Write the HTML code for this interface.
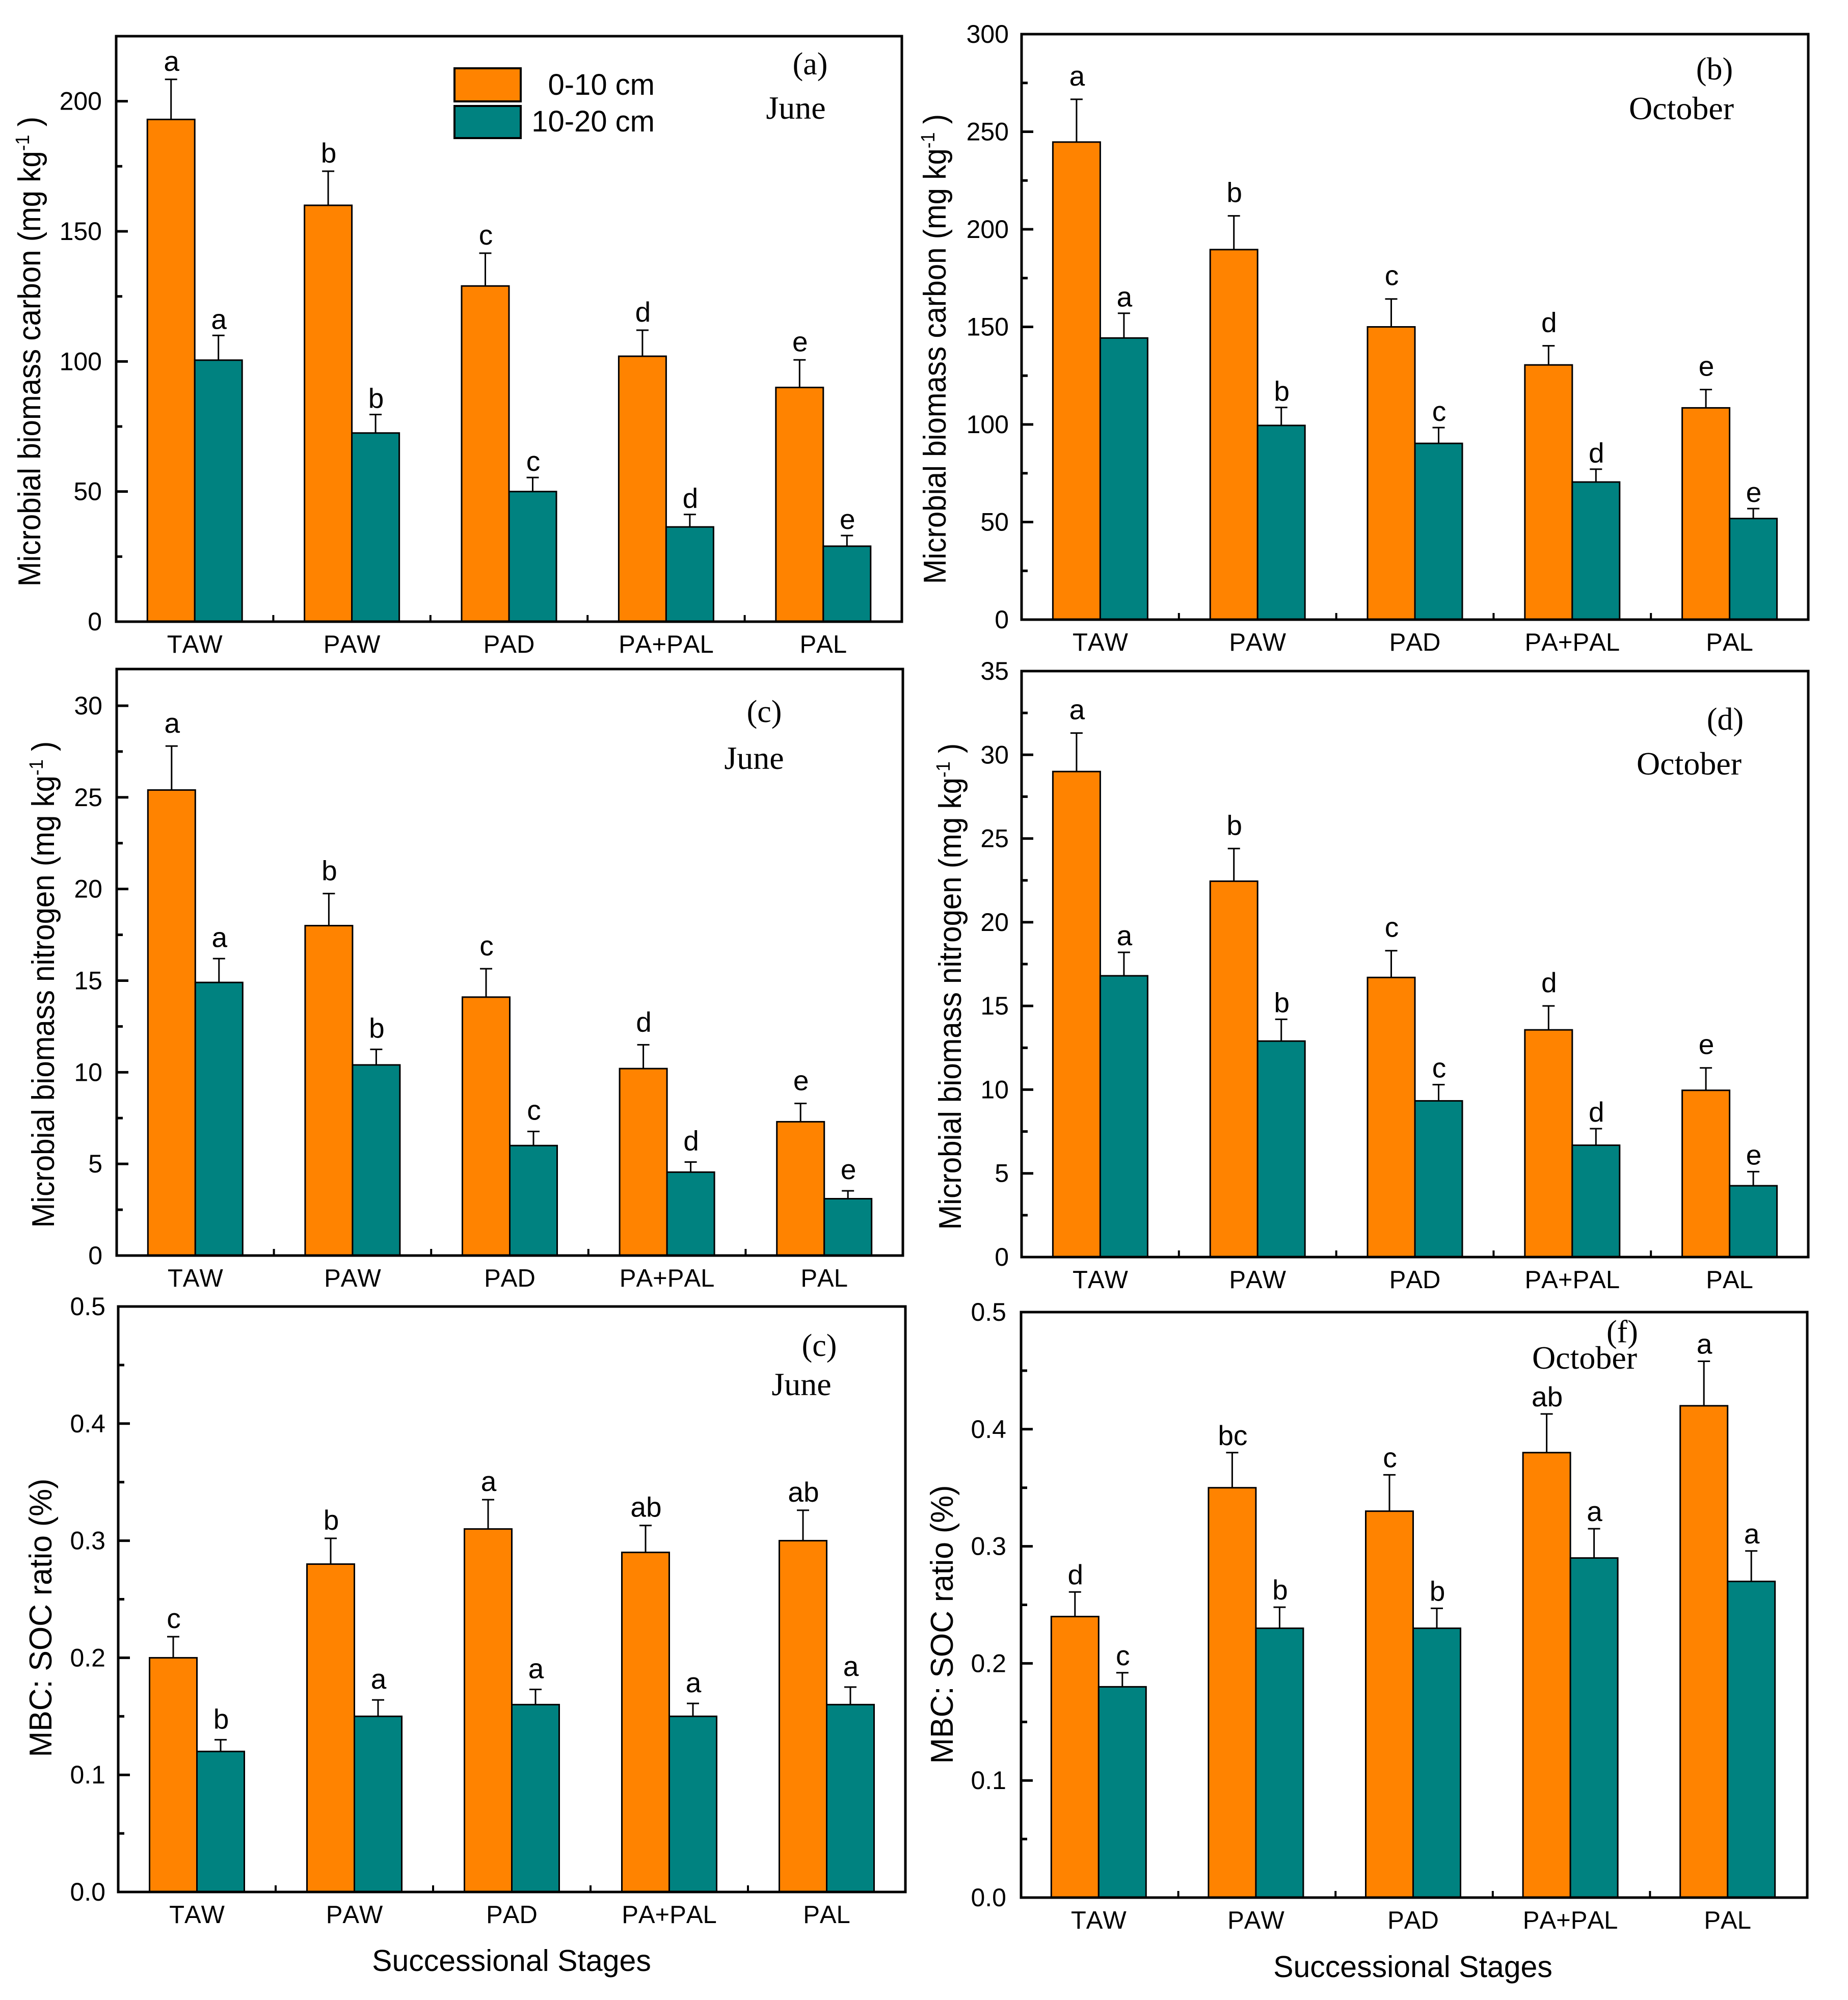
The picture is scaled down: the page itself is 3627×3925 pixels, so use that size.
<!DOCTYPE html>
<html lang="en">
<head>
<meta charset="utf-8">
<title>Microbial biomass by successional stage</title>
<style>
html,body{margin:0;padding:0;background:#fff;}
svg{display:block;}
text{font-family:"Liberation Sans",Arial,sans-serif;fill:#000;}
.serif{font-family:"Liberation Serif","Times New Roman",serif;}
.nokern{font-kerning:none;}
</style>
</head>
<body>
<svg id="figure" xmlns="http://www.w3.org/2000/svg" width="3627" height="3925" viewBox="0 0 3627 3925">
<rect x="0" y="0" width="3627" height="3925" fill="#fff"/>
</svg>
<script>
// Shared categories
const categories = ["TAW", "PAW", "PAD", "PA+PAL", "PAL"];
const seriesNames = ["0-10 cm", "10-20 cm"];

// Panel a: MBC, June
const aTicks = [0, 50, 100, 150, 200];
const aShallow = [193, 160, 129, 102, 90];
const aDeep = [100.5, 72.5, 50, 36.4, 29];
const aShallowErr = [208.4, 173.1, 141.6, 112, 100.6];
const aDeepErr = [110, 79.6, 55.4, 41.2, 33.1];
const aShallowLetters = ["a", "b", "c", "d", "e"];
const aDeepLetters = ["a", "b", "c", "d", "e"];

// Panel b: MBC, October
const bTicks = [0, 50, 100, 150, 200, 250, 300];
const bShallow = [244.7, 189.6, 150, 130.5, 108.5];
const bDeep = [144.3, 99.5, 90.3, 70.5, 51.8];
const bShallowErr = [266.6, 206.9, 164.3, 140.3, 117.9];
const bDeepErr = [157, 108.7, 98.4, 77.1, 56.9];
const bShallowLetters = ["a", "b", "c", "d", "e"];
const bDeepLetters = ["a", "b", "c", "d", "e"];

// Panel c: MBN, June
const cTicks = [0, 5, 10, 15, 20, 25, 30];
const cShallow = [25.4, 18, 14.1, 10.2, 7.3];
const cDeep = [14.9, 10.4, 6, 4.55, 3.1];
const cShallowErr = [27.8, 19.75, 15.65, 11.5, 8.3];
const cDeepErr = [16.2, 11.25, 6.77, 5.1, 3.53];
const cShallowLetters = ["a", "b", "c", "d", "e"];
const cDeepLetters = ["a", "b", "c", "d", "e"];

// Panel d: MBN, October
const dTicks = [0, 5, 10, 15, 20, 25, 30, 35];
const dShallow = [29, 22.45, 16.7, 13.57, 9.96];
const dDeep = [16.8, 12.9, 9.33, 6.68, 4.26];
const dShallowErr = [31.3, 24.4, 18.3, 15, 11.3];
const dDeepErr = [18.2, 14.2, 10.3, 7.67, 5.1];
const dShallowLetters = ["a", "b", "c", "d", "e"];
const dDeepLetters = ["a", "b", "c", "d", "e"];

// Panel e: MBC:SOC, June
const eTicks = [0, 0.1, 0.2, 0.3, 0.4, 0.5];
const eShallow = [0.2, 0.28, 0.31, 0.29, 0.3];
const eDeep = [0.12, 0.15, 0.16, 0.15, 0.16];
const eShallowErr = [0.218, 0.302, 0.335, 0.313, 0.326];
const eDeepErr = [0.13, 0.164, 0.173, 0.161, 0.175];
const eShallowLetters = ["c", "b", "a", "ab", "ab"];
const eDeepLetters = ["b", "a", "a", "a", "a"];

// Panel f: MBC:SOC, October
const fTicks = [0, 0.1, 0.2, 0.3, 0.4, 0.5];
const fShallow = [0.24, 0.35, 0.33, 0.38, 0.42];
const fDeep = [0.18, 0.23, 0.23, 0.29, 0.27];
const fShallowErr = [0.261, 0.38, 0.361, 0.413, 0.458];
const fDeepErr = [0.192, 0.248, 0.247, 0.315, 0.296];
const fShallowLetters = ["d", "bc", "c", "ab", "a"];
const fDeepLetters = ["c", "b", "b", "a", "a"];

const NS = "http://www.w3.org/2000/svg";
const root = document.getElementById("figure");
const ORANGE = "#FF8300";
const TEAL = "#008280";

function mk(tag, attrs, parent) {
  const el = document.createElementNS(NS, tag);
  for (const k in attrs) el.setAttribute(k, attrs[k]);
  parent.appendChild(el);
  return el;
}

function drawPanel(p) {
  const g = mk("g", {}, root);
  
  

  const plotH = p.bottom - p.top;
  const plotW = p.right - p.left;
  const yScale = v => p.bottom - (v / p.max) * plotH;
  const xCenter = i => p.left + plotW * (i + 0.5) / categories.length + p.shift;
  const BW = 93;

  const series = [
    {vals: p.shallow, errs: p.shallowErr, letters: p.shallowLetters, fill: ORANGE, dir: -1, key: 'shallow', gap: p.gapShallow},
    {vals: p.deep, errs: p.deepErr, letters: p.deepLetters, fill: TEAL, dir: 1, key: 'deep', gap: p.gapDeep}
  ];

  series.forEach(s => {
    s.vals.forEach((v, i) => {
      const cx = xCenter(i);
      const x0 = s.dir < 0 ? cx - BW : cx;
      const mid = x0 + BW / 2;
      const yTop = yScale(v);
      const yErr = yScale(s.errs[i]);

      const bar = mk("rect", {x: x0, y: yTop, width: BW, height: p.bottom - yTop, fill: s.fill, stroke: "#000", "stroke-width": 3}, g);
      
      

      const stem = mk("line", {x1: mid, x2: mid, y1: yTop, y2: yErr, stroke: "#000", "stroke-width": 3}, g);
      
      

      const cap = mk("line", {x1: mid - 12, x2: mid + 12, y1: yErr, y2: yErr, stroke: "#000", "stroke-width": 3}, g);
      
      

      const lab = mk("text", {x: mid + 1, y: yErr - s.gap, "text-anchor": "middle", "font-size": 55}, g);
      lab.textContent = s.letters[i];
      
      
    });
  });

  // plot frame
  const frame = mk("rect", {x: p.left, y: p.top, width: plotW, height: plotH, fill: "none", stroke: "#000", "stroke-width": 5}, g);
  
  

  // y ticks: major with labels, minor halfway between majors
  const step = p.ticks[1] - p.ticks[0];
  p.ticks.forEach(t => {
    const y = yScale(t);
    if (t > 0 && t < p.max) {
      const tick = mk("line", {x1: p.left, x2: p.left + 23, y1: y, y2: y, stroke: "#000", "stroke-width": 5}, g);
      
      
    }
    const label = mk("text", {x: p.tickRight, y: y + 17, "text-anchor": "end", "font-size": 50}, g);
    label.textContent = p.decimals ? t.toFixed(p.decimals) : String(t);
    
    

    const m = t + step / 2;
    if (m < p.max) {
      const minor = mk("line", {x1: p.left, x2: p.left + 12, y1: yScale(m), y2: yScale(m), stroke: "#000", "stroke-width": 5}, g);
      
      
    }
  });

  // x ticks and category labels
  categories.forEach((c, i) => {
    if (i > 0) {
      const bx = p.left + plotW * i / categories.length;
      const tick = mk("line", {x1: bx, x2: bx, y1: p.bottom, y2: p.bottom - 13, stroke: "#000", "stroke-width": 4}, g);
      
      
    }
    const label = mk("text", {x: xCenter(i), y: p.bottom + 61, "text-anchor": "middle", "font-size": 49, "class": "nokern"}, g);
    label.textContent = c;
    
    
  });

  // y title: taller glyphs than their advance, as in the source figure
  const title = mk("text", {transform: "translate(" + p.titleX + "," + p.titleY + ") rotate(-90) scale(" + p.titleStretch + ",1)", "text-anchor": "middle", "font-size": 62}, g);
  
  
  if (p.unit) {
    const t1 = mk("tspan", {}, title);
    t1.textContent = p.yTitle + " (mg kg";
    const t2 = mk("tspan", {dy: -22, "font-size": 38}, title);
    t2.textContent = "-1";
    const t3 = mk("tspan", {dy: 22}, title);
    t3.textContent = "\u00A0)";
  } else {
    title.textContent = p.yTitle;
  }

  // panel tag and month
  const tag = mk("text", {x: p.tagX, y: p.tagY, "text-anchor": "middle", "font-size": 62, "class": "serif"}, g);
  tag.textContent = p.tag;
  
  

  const month = mk("text", {x: p.monthX, y: p.monthY, "text-anchor": "middle", "font-size": 64, "class": "serif"}, g);
  month.textContent = p.month;
  
  

  if (p.xTitleY) {
    const xt = mk("text", {x: p.xTitleX, y: p.xTitleY, "text-anchor": "middle", "font-size": 59}, g);
    xt.textContent = "Successional Stages";
    
    
  }
}

drawPanel({id:"a", left:228, right:1770, top:71, bottom:1220, max:225, shift:0, ticks:aTicks, decimals:0, tickRight:200,
  shallow:aShallow, deep:aDeep, shallowErr:aShallowErr, deepErr:aDeepErr, shallowLetters:aShallowLetters, deepLetters:aDeepLetters,
  gapShallow:17, gapDeep:13, titleStretch:0.94,
  yTitle:"Microbial biomass carbon", unit:true, titleX:79, titleY:690, tag:"(a)", tagX:1590, tagY:146, month:"June", monthX:1562, monthY:233});

drawPanel({id:"b", left:2005, right:3549, top:67, bottom:1216, max:300, shift:0, ticks:bTicks, decimals:0, tickRight:1980,
  shallow:bShallow, deep:bDeep, shallowErr:bShallowErr, deepErr:bDeepErr, shallowLetters:bShallowLetters, deepLetters:bDeepLetters,
  gapShallow:27, gapDeep:13, titleStretch:0.94,
  yTitle:"Microbial biomass carbon", unit:true, titleX:1856, titleY:685, tag:"(b)", tagX:3365, tagY:156, month:"October", monthX:3300, monthY:234});

drawPanel({id:"c", left:229, right:1772, top:1313, bottom:2464, max:32, shift:0, ticks:cTicks, decimals:0, tickRight:201,
  shallow:cShallow, deep:cDeep, shallowErr:cShallowErr, deepErr:cDeepErr, shallowLetters:cShallowLetters, deepLetters:cDeepLetters,
  gapShallow:26, gapDeep:23, titleStretch:0.94,
  yTitle:"Microbial biomass nitrogen", unit:true, titleX:106, titleY:1932, tag:"(c)", tagX:1500, tagY:1417, month:"June", monthX:1480, monthY:1509});

drawPanel({id:"d", left:2005, right:3549, top:1317, bottom:2467, max:35, shift:0, ticks:dTicks, decimals:0, tickRight:1980,
  shallow:dShallow, deep:dDeep, shallowErr:dShallowErr, deepErr:dDeepErr, shallowLetters:dShallowLetters, deepLetters:dDeepLetters,
  gapShallow:27, gapDeep:14, titleStretch:0.94,
  yTitle:"Microbial biomass nitrogen", unit:true, titleX:1886, titleY:1936, tag:"(d)", tagX:3386, tagY:1432, month:"October", monthX:3315, monthY:1520});

drawPanel({id:"e", left:232, right:1777, top:2564, bottom:3713, max:0.5, shift:0, ticks:eTicks, decimals:1, tickRight:207,
  shallow:eShallow, deep:eDeep, shallowErr:eShallowErr, deepErr:eDeepErr, shallowLetters:eShallowLetters, deepLetters:eDeepLetters,
  gapShallow:17, gapDeep:22, titleStretch:0.98,
  yTitle:"MBC: SOC ratio (%)", unit:false, titleX:101, titleY:3175, tag:"(c)", tagX:1608, tagY:2661, month:"June", monthX:1573, monthY:2738,
  xTitleX:1004, xTitleY:3868});

drawPanel({id:"f", left:2004, right:3547, top:2575, bottom:3724, max:0.5, shift:-2, ticks:fTicks, decimals:1, tickRight:1975,
  shallow:fShallow, deep:fDeep, shallowErr:fShallowErr, deepErr:fDeepErr, shallowLetters:fShallowLetters, deepLetters:fDeepLetters,
  gapShallow:15, gapDeep:15, titleStretch:0.98,
  yTitle:"MBC: SOC ratio (%)", unit:false, titleX:1870, titleY:3188, tag:"(f)", tagX:3184, tagY:2634, month:"October", monthX:3110, monthY:2686,
  xTitleX:2773, xTitleY:3880});

// Legend in panel a
const legend = mk("g", {}, root);



const swatchA = mk("rect", {x:892, y:134, width:130, height:65, fill:ORANGE, stroke:"#000", "stroke-width":4}, legend);



const swatchB = mk("rect", {x:892, y:208, width:130, height:63, fill:TEAL, stroke:"#000", "stroke-width":4}, legend);



const entryA = mk("text", {x:1285, y:186, "text-anchor":"end", "font-size":58}, legend);
entryA.textContent = seriesNames[0];



const entryB = mk("text", {x:1285, y:258, "text-anchor":"end", "font-size":58}, legend);
entryB.textContent = seriesNames[1];


</script>
</body>
</html>
